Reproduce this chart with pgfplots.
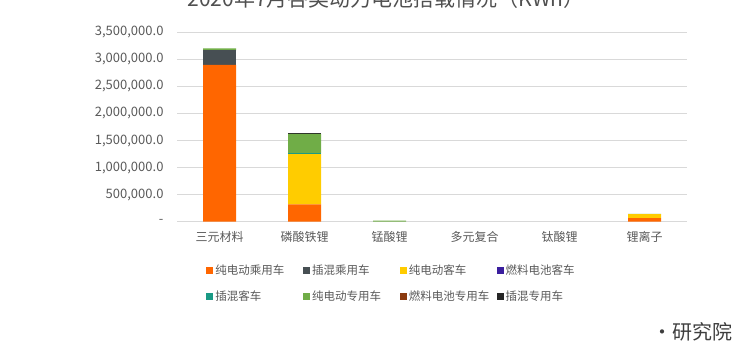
\documentclass[border=0pt]{standalone}
\usepackage{pgfplots}
\pgfplotsset{compat=1.18}
\usepackage{fontspec}
\setmainfont{Noto Sans CJK SC}
\definecolor{cA}{HTML}{FF6600}
\definecolor{cB}{HTML}{474F53}
\definecolor{cC}{HTML}{FFCC00}
\definecolor{cD}{HTML}{3A1E9E}
\definecolor{cE}{HTML}{1A9A85}
\definecolor{cF}{HTML}{70AD47}
\definecolor{cG}{HTML}{8B3A0F}
\definecolor{cH}{HTML}{262626}
\definecolor{tx}{HTML}{595959}
\definecolor{gl}{HTML}{D9D9D9}
\newcommand{\lb}[1]{\makebox[80pt][l]{#1}}
\begin{document}
\begin{tikzpicture}
\begin{axis}[
  at={(177pt,128.3pt)}, anchor=south west,
  scale only axis, width=510pt, height=189.4pt,
  ybar stacked, bar width=33pt,
  xmin=-0.5, xmax=5.5, ymin=0, ymax=3500000,
  xtick={0,1,2,3,4,5},
  xticklabels={三元材料,磷酸铁锂,锰酸锂,多元复合,钛酸锂,锂离子},
  ytick={0,500000,1000000,1500000,2000000,2500000,3000000,3500000},
  yticklabels={{-},{500,000.0},{1,000,000.0},{1,500,000.0},{2,000,000.0},{2,500,000.0},{3,000,000.0},{3,500,000.0}},
  scaled y ticks=false,
  major tick length=0pt,
  axis line style={draw=none},
  ymajorgrids, major grid style={gl, line width=0.8pt},
  tick label style={text=tx},
  xticklabel style={yshift=-6pt, font=\fontsize{12}{14}\selectfont},
  yticklabel style={xshift=-10pt, font=\fontsize{13}{15}\selectfont},
  legend columns=4,
  legend cell align=left,
  legend style={draw=none, fill=none, at={(0.057,-0.215)}, anchor=north west,
    font=\fontsize{11.5}{13}\selectfont, text=tx, inner sep=0pt,
    /tikz/every even column/.append style={column sep=5.8pt},
    row sep=11pt},
  legend image code/.code={\fill[#1] (0pt,-3.5pt) rectangle (7pt,3.5pt);},
  every axis plot/.append style={draw=none},
]
\addplot+[fill=cA] coordinates {(0,2900000) (1,320000) (2,0) (3,0) (4,0) (5,65000)};
\addplot+[fill=cB] coordinates {(0,265000) (1,0) (2,0) (3,0) (4,0) (5,0)};
\addplot+[fill=cC] coordinates {(0,0) (1,930000) (2,0) (3,0) (4,0) (5,75000)};
\addplot+[fill=cD] coordinates {(0,0) (1,0) (2,0) (3,0) (4,0) (5,0)};
\addplot+[fill=cE] coordinates {(0,0) (1,12000) (2,0) (3,0) (4,0) (5,0)};
\addplot+[fill=cF] coordinates {(0,40000) (1,360000) (2,22000) (3,0) (4,0) (5,5000)};
\addplot+[fill=cG] coordinates {(0,0) (1,0) (2,0) (3,0) (4,0) (5,0)};
\addplot+[fill=cH] coordinates {(0,0) (1,25000) (2,0) (3,0) (4,0) (5,0)};
\legend{\lb{纯电动乘用车},\lb{插混乘用车},\lb{纯电动客车},\lb{燃料电池客车},\lb{插混客车},\lb{纯电动专用车},\lb{燃料电池专用车},\lb{插混专用车}}
\end{axis}
\node[anchor=base, font=\fontsize{21}{23}\selectfont, text=tx!90!black] at (386pt,343pt) {2020年7月各类动力电池搭载情况（KWh）};
\node[anchor=base east, font=\fontsize{20}{22}\selectfont, text=tx!70!black] at (736pt,10pt) {·研究院};
\pgfresetboundingbox
\useasboundingbox (0,0) rectangle (736pt,350pt);
\end{tikzpicture}
\end{document}
